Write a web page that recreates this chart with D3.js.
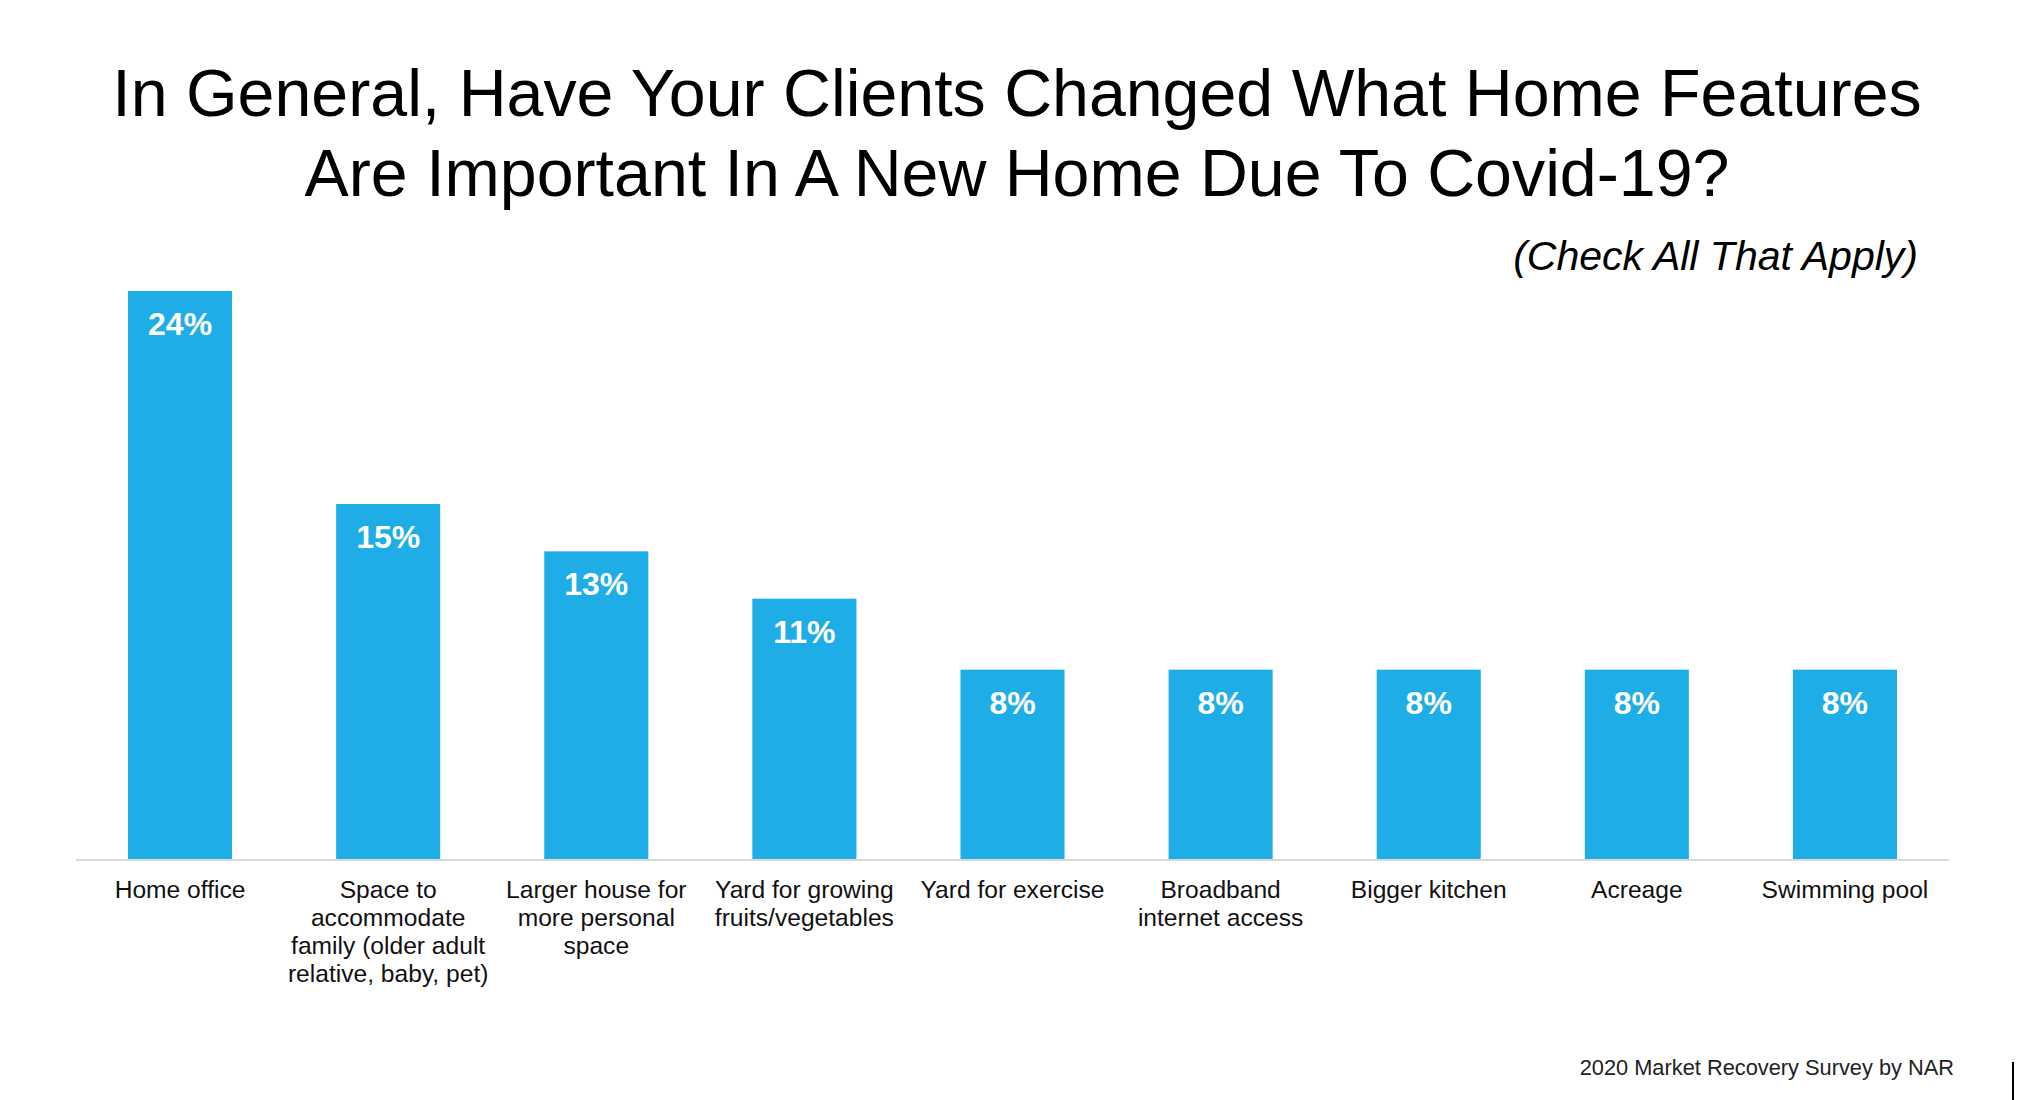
<!DOCTYPE html>
<html>
<head>
<meta charset="utf-8">
<script src="https://cdn.jsdelivr.net/npm/d3@7"></script>
<style>
  body { margin: 0; background: #fff; }
  svg { display: block; font-family: "Liberation Sans", Arial, sans-serif; }
</style>
</head>
<body>
<svg></svg>
<script>
// chart values
var categories = [
  "Home office",
  "Space to\naccommodate\nfamily (older adult\nrelative, baby, pet)",
  "Larger house for\nmore personal\nspace",
  "Yard for growing\nfruits/vegetables",
  "Yard for exercise",
  "Broadband\ninternet access",
  "Bigger kitchen",
  "Acreage",
  "Swimming pool"
];
var values = [24, 15, 13, 11, 8, 8, 8, 8, 8];

var titleLines = [
  "In General, Have Your Clients Changed What Home Features",
  "Are Important In A New Home Due To Covid-19?"
];
var subtitle = "(Check All That Apply)";
var source = "2020 Market Recovery Survey by NAR";

var drawChart = function() {
  var screen = { width: 2028, height: 1100 };
  var plot = { left: 76, right: 1949, top: 291, bottom: 859 };

  var svg = d3.select("svg")
    .attr("width", screen.width)
    .attr("height", screen.height);

  svg.append("rect")
    .attr("width", screen.width)
    .attr("height", screen.height)
    .attr("fill", "#fff");

  var xScale = d3.scaleBand()
    .domain(categories)
    .range([plot.left, plot.right])
    .paddingInner(0.5)
    .paddingOuter(0.25);

  var yScale = d3.scaleLinear()
    .domain([0, d3.max(values)])
    .range([plot.bottom, plot.top]);

  // title
  svg.append("g").selectAll("text")
    .data(titleLines)
    .enter()
    .append("text")
    .attr("x", 1017)
    .attr("y", function(d, i) { return 116 + i * 80; })
    .attr("text-anchor", "middle")
    .attr("font-size", 66.3)
    .attr("fill", "#000")
    .text(function(d) { return d; });

  svg.append("text")
    .attr("x", 1918)
    .attr("y", 270)
    .attr("text-anchor", "end")
    .attr("font-size", 41)
    .attr("font-style", "italic")
    .attr("fill", "#000")
    .text(subtitle);

  var rows = categories.map(function(c, i) { return { name: c, value: values[i] }; });

  var bars = svg.append("g").classed("bars", true);

  bars.selectAll("rect")
    .data(rows)
    .enter()
    .append("rect")
    .attr("x", function(d) { return xScale(d.name); })
    .attr("y", function(d) { return yScale(d.value); })
    .attr("width", xScale.bandwidth())
    .attr("height", function(d) { return yScale(0) - yScale(d.value); })
    .attr("fill", "#1fade8");

  bars.selectAll("text")
    .data(rows)
    .enter()
    .append("text")
    .attr("x", function(d) { return xScale(d.name) + xScale.bandwidth() / 2; })
    .attr("y", function(d) { return yScale(d.value) + 44; })
    .attr("text-anchor", "middle")
    .attr("font-size", 32)
    .attr("font-weight", "bold")
    .attr("fill", "#fff")
    .text(function(d) { return d.value + "%"; });

  // baseline
  svg.append("line")
    .attr("x1", plot.left)
    .attr("x2", plot.right)
    .attr("y1", yScale(0) + 1)
    .attr("y2", yScale(0) + 1)
    .attr("stroke", "#d9d9d9")
    .attr("stroke-width", 2);

  // category labels
  var labels = svg.append("g").selectAll("text")
    .data(categories)
    .enter()
    .append("text")
    .attr("text-anchor", "middle")
    .attr("font-size", 24.6)
    .attr("fill", "#111");

  labels.selectAll("tspan")
    .data(function(c) {
      return c.split("\n").map(function(line) { return { cat: c, line: line }; });
    })
    .enter()
    .append("tspan")
    .attr("x", function(d) { return xScale(d.cat) + xScale.bandwidth() / 2; })
    .attr("y", function(d, i) { return yScale(0) + 39 + i * 28; })
    .text(function(d) { return d.line; });

  svg.append("text")
    .attr("x", 1954)
    .attr("y", 1075)
    .attr("text-anchor", "end")
    .attr("font-size", 21.8)
    .attr("fill", "#222")
    .text(source);

  svg.append("line")
    .attr("x1", 2013)
    .attr("x2", 2013)
    .attr("y1", 1062)
    .attr("y2", 1100)
    .attr("stroke", "#000")
    .attr("stroke-width", 2);
};

drawChart();
</script>
</body>
</html>
